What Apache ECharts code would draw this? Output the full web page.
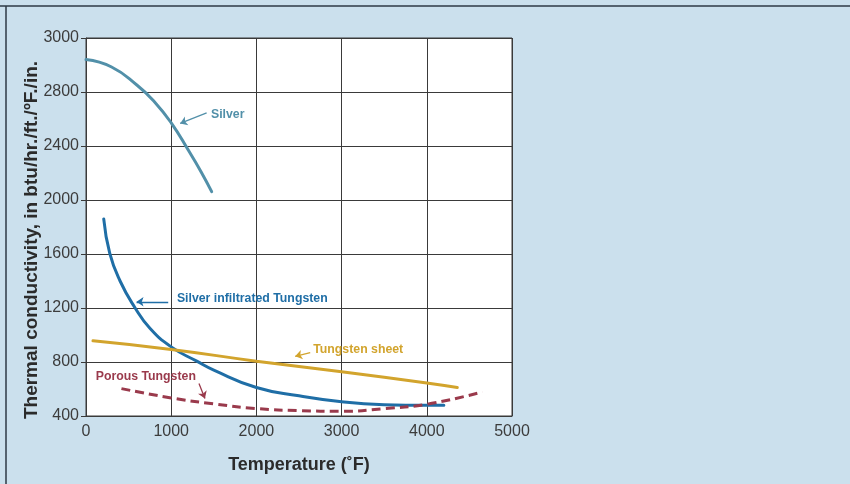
<!DOCTYPE html>
<html>
<head>
<meta charset="utf-8">
<script src="https://cdn.jsdelivr.net/npm/echarts@6/dist/echarts.min.js"></script>
<style>
html,body{margin:0;padding:0;background:#cbe0ed;}
#c{width:850px;height:484px;}
</style>
</head>
<body>
<div id="c"></div>
<script>
// ---- data ----
var xTicks = [0, 1000, 2000, 3000, 4000, 5000];
var yTickLabels = ['400', '800', '1200', '1600', '2000', '2400', '2800', '3000'];

var silver = [[0, 3040], [300, 2985], [600, 2850], [800, 2730], [1000, 2572], [1200, 2370], [1350, 2210], [1475, 2062]];
var silverInfiltrated = [[208, 1860], [279, 1605], [400, 1400], [573, 1204], [750, 1050], [1000, 912], [1300, 806], [1500, 740], [2000, 611], [2500, 550], [3000, 505], [3500, 484], [4000, 480], [4200, 480]];
var tungstenSheet = [[82, 957], [1000, 893], [2000, 806], [3000, 727], [4000, 645], [4358, 611]];
var porousTungsten = [[416, 603], [1000, 534], [1500, 490], [2000, 455], [2500, 440], [3000, 435], [3500, 455], [4000, 487], [4652, 578]];

// annotation anchors (data coordinates): [textPos, arrowStart, arrowEnd]
var silverNote = [[1467, 2631], [1416, 2646], [1105, 2567]];
var infilNote = [[1067, 1273], [965, 1246], [593, 1246]];
var sheetNote = [[2667, 893], [2632, 870], [2455, 842]];
var porousNote = [[114, 689], [1326, 640], [1396, 529]];

var C_SILVER = '#5290a9', C_INF = '#1f6ea6', C_SHEET = '#d2a42d', C_POR = '#9a3a4c';
var noteFont = 'Liberation Sans, Arial, sans-serif';

function note(arr, text, color) {
  return {
    markLine: {
      silent: true, animation: false,
      symbol: ['none', 'arrow'], symbolSize: 7,
      lineStyle: {color: color, type: 'solid', width: 1.3},
      label: {show: false},
      data: [[{coord: arr[1]}, {coord: arr[2]}]]
    },
    markPoint: {
      silent: true, animation: false,
      symbol: 'circle', symbolSize: 0,
      itemStyle: {color: 'transparent'},
      label: {show: true, position: 'right', distance: 0, formatter: text,
        color: color, fontFamily: noteFont, fontWeight: 'bold', fontSize: 12.3},
      data: [{coord: arr[0]}]
    }
  };
}

function series(name, data, color, dashed, n) {
  var s = {
    name: name, type: 'line', data: data, smooth: 0.5, showSymbol: false,
    lineStyle: {color: color, width: 3, type: dashed ? [9, 5] : 'solid', cap: dashed ? 'butt' : 'round'},
    itemStyle: {color: color}, z: 3
  };
  return Object.assign(s, n);
}

var chart = echarts.init(document.getElementById('c'), null, {renderer: 'canvas'});
chart.setOption({
  animation: false,
  backgroundColor: '#cbe0ed',
  textStyle: {fontFamily: 'Liberation Sans, Arial, sans-serif'},
  grid: {left: 86, right: 338, top: 38, bottom: 68, show: true, backgroundColor: '#ffffff', borderColor: '#3a3a3a', borderWidth: 1},
  xAxis: {
    type: 'value', min: xTicks[0], max: xTicks[xTicks.length - 1], interval: 1000,
    name: 'Temperature (˚F)', nameLocation: 'middle', nameGap: 40,
    nameTextStyle: {fontSize: 18, fontWeight: 'bold', color: '#2b2b2b'},
    axisLine: {show: true, lineStyle: {color: '#3a3a3a', width: 1}},
    axisTick: {show: false},
    axisLabel: {fontSize: 16, color: '#3c3c3c', margin: 8, formatter: function (v) { return String(v); }},
    splitLine: {show: true, lineStyle: {color: '#3a3a3a', width: 1}}
  },
  yAxis: {
    type: 'value', min: 400, max: 3200, interval: 400,
    name: 'Thermal conductivity, in btu/hr./ft./ºF./in.', nameLocation: 'middle', nameGap: 45,
    nameMoveOverlap: false,
    nameTextStyle: {fontSize: 19, fontWeight: 'bold', color: '#2b2b2b', padding: [0, 26, 0, 0]},
    axisLine: {show: true, lineStyle: {color: '#3a3a3a', width: 1}},
    axisTick: {show: true, length: 5, inside: false, lineStyle: {color: '#3a3a3a'}},
    axisLabel: {fontSize: 16, color: '#3c3c3c', margin: 7,
      formatter: function (v) { var i = Math.round((v - 400) / 400); return yTickLabels[i]; }},
    splitLine: {show: true, lineStyle: {color: '#3a3a3a', width: 1}}
  },
  graphic: [
    {type: 'line', shape: {x1: 0, y1: 6, x2: 850, y2: 6}, style: {stroke: '#2e3a44', lineWidth: 1.5}, z: 10},
    {type: 'line', shape: {x1: 6, y1: 6, x2: 6, y2: 484}, style: {stroke: '#2e3a44', lineWidth: 1.5}, z: 10}
  ],
  series: [
    series('Silver', silver, C_SILVER, false, note(silverNote, 'Silver', C_SILVER)),
    series('Silver infiltrated Tungsten', silverInfiltrated, C_INF, false, note(infilNote, 'Silver infiltrated Tungsten', C_INF)),
    series('Tungsten sheet', tungstenSheet, C_SHEET, false, note(sheetNote, 'Tungsten sheet', C_SHEET)),
    series('Porous Tungsten', porousTungsten, C_POR, true, note(porousNote, 'Porous Tungsten', C_POR))
  ]
});
</script>
</body>
</html>
